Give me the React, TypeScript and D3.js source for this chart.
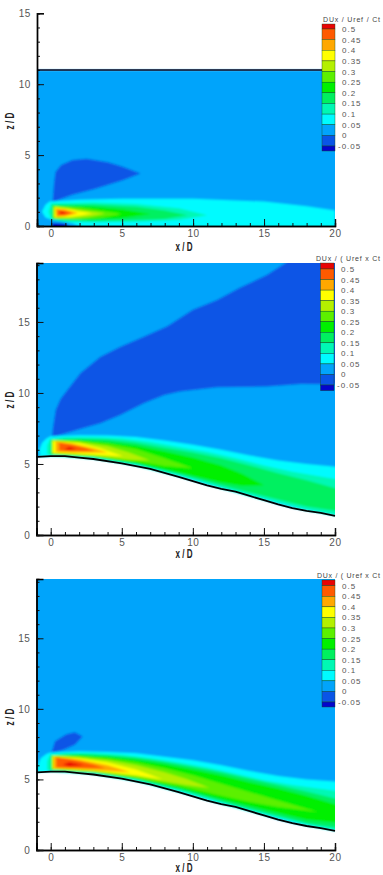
import React, { useEffect, useRef } from "react";
import * as d3 from "d3";

type Pt = [number, number];
type Contour = [number, Pt[]];

// contour levels and the colour of each band, lowest first
const levels = [-0.05, 0, 0.05, 0.1, 0.15, 0.2, 0.25, 0.3, 0.35, 0.4, 0.45, 0.5];
const bandColors = [
  "#0404cc", "#0a55e6", "#02a4fb", "#00fbff", "#00f8b4", "#00f060", "#00f000",
  "#5cf000", "#b4f000", "#ffff00", "#ffa800", "#ff5a00", "#e80404",
];
const levelLabels = ["-0.05", "0", "0.05", "0.1", "0.15", "0.2", "0.25", "0.3", "0.35", "0.4", "0.45", "0.5"];
const xTicks = [0, 5, 10, 15, 20];
const xMinor = d3.range(-1, 21);

const terrain: Pt[] = [
  [-1, 5.5], [0, 5.55], [1, 5.55], [2, 5.45], [3, 5.35], [5, 5.05], [7, 4.65], [9, 4.1], [10, 3.8],
  [11, 3.5], [12, 3.25], [13, 3.05], [14, 2.75], [15, 2.45], [16, 2.15], [17, 1.9], [18, 1.7], [19, 1.55], [20, 1.35],
];

// flat channel, z/D 0 to 11
const flatContours: Contour[] = [
  [-0.05, [[0, 0.45], [0.1, 1.7], [0.2, 3], [0.3, 3.8], [0.7, 4.3], [1.5, 4.65], [2.5, 4.75], [4, 4.5], [5, 4.2], [6.3, 3.7], [5, 3.2], [3, 2.6], [1.5, 2.2], [0.1, 1.7]]],
  [0.05, [[-0.65, 1], [-0.4, 1.5], [-0.1, 1.72], [2, 1.85], [5, 1.92], [10, 1.92], [15, 1.72], [18, 1.4], [20, 1.1], [20, -0.5], [3, -0.5], [1.5, 0.2], [0, 0.45], [-0.4, 0.6]]],
  [0.1, [[-0.2, 1], [0, 1.58], [3, 1.65], [6, 1.55], [9, 1.25], [11, 0.75], [9, 0.42], [6, 0.3], [3, 0.26], [1, 0.3], [0, 0.45]]],
  [0.15, [[0.05, 0.55], [0.05, 1.5], [3, 1.52], [6, 1.36], [8, 1.1], [9.6, 0.75], [8, 0.5], [6, 0.42], [3, 0.36], [0.5, 0.42]]],
  [0.2, [[0.1, 0.55], [0.1, 1.44], [3, 1.36], [5, 1.18], [7, 0.85], [5, 0.55], [3, 0.46], [0.3, 0.48]]],
  [0.25, [[0.15, 0.55], [0.15, 1.4], [2, 1.28], [3.5, 1.08], [5, 0.85], [3.5, 0.6], [2, 0.5], [0.3, 0.52]]],
  [0.3, [[0.2, 0.58], [0.2, 1.36], [1.5, 1.22], [2.6, 1.04], [3.8, 0.88], [2.6, 0.66], [1.5, 0.56]]],
  [0.35, [[0.25, 0.62], [0.25, 1.32], [1.2, 1.2], [2, 1.02], [2.9, 0.9], [2, 0.72], [1.2, 0.62]]],
  [0.4, [[0.35, 0.66], [0.3, 1.24], [1, 1.16], [1.9, 0.92], [1, 0.68]]],
  [0.45, [[0.45, 0.74], [0.45, 1.14], [1, 1.08], [1.5, 0.92], [1, 0.76]]],
  [0.5, [[0.6, 0.86], [0.7, 1.02], [1.05, 0.96], [0.8, 0.84]]],
];
const flatDeepPatch: Pt[] = [[0.05, -0.5], [0.05, 0.22], [1, 0.16], [1.8, -0.5]];

// hill case with a large wake above the crest
const hillAContours: Contour[] = [
  [-0.05, [[0.1, 6.9], [0.15, 7.5], [0.35, 8.8], [0.7, 9.6], [1.17, 10.2], [2.1, 11.4], [3.5, 12.55], [4.9, 13.25], [6.3, 13.85], [8.2, 14.7], [10, 15.85], [11.7, 16.55], [13.3, 17.4], [15.2, 18.3], [16.6, 19.2], [16.8, 20], [21, 20], [21, 10.6], [17.6, 10.63], [15.2, 10.45], [11.7, 10.4], [9.1, 10.1], [8, 9.85], [6.55, 9.27], [4.9, 8.45], [3.5, 7.87], [2, 7.45], [1, 7.15]]],
  [0.05, [[-0.75, 5.5], [-0.8, 6], [-0.6, 6.5], [-0.3, 6.8], [0, 6.95], [2, 7.02], [4, 7], [6, 6.9], [8, 6.65], [10, 6.35], [12, 6], [14, 5.6], [16, 5.25], [18, 5], [20, 4.8], [21, 4.7], [21, 1.2], [20, 1.35], [18, 1.7], [15, 2.45], [12, 3.25], [9, 4.1], [6, 4.85], [3, 5.35], [0, 5.55]]],
  [0.1, [[-0.25, 5.7], [-0.25, 6.3], [-0.05, 6.75], [1, 6.88], [3, 6.88], [5, 6.8], [7, 6.55], [9, 6.2], [11, 5.85], [13, 5.4], [15, 4.9], [17, 4.45], [20, 3.95], [21, 3.8], [21, 1.3], [20, 1.42], [18, 1.8], [15, 2.55], [12, 3.35], [9, 4.2], [6, 4.95], [3, 5.42], [0, 5.6]]],
  [0.15, [[0, 5.65], [0, 6.7], [2, 6.78], [4, 6.72], [6, 6.5], [8, 6.15], [10, 5.8], [12, 5.4], [14, 4.9], [16, 4.35], [18, 3.85], [20, 3.3], [21, 3.1], [21, 1.55], [20, 1.7], [18, 2], [15, 2.75], [12, 3.5], [9, 4.3], [6, 5], [3, 5.48]]],
  [0.2, [[0.05, 5.7], [0.05, 6.7], [2, 6.7], [4, 6.55], [6, 6.3], [8, 5.9], [10, 5.45], [12, 4.9], [13.5, 4.3], [15, 3.5], [13.5, 3.45], [12, 3.7], [9, 4.4], [6, 5.05], [3, 5.5]]],
  [0.25, [[0.1, 5.72], [0.1, 6.68], [2, 6.6], [4, 6.4], [6, 6.05], [8, 5.4], [10, 4.7], [8, 4.85], [6, 5.2], [3, 5.55]]],
  [0.3, [[0.12, 5.75], [0.12, 6.66], [2, 6.55], [4, 6.25], [5.5, 5.8], [7, 5.25], [5.5, 5.3], [3, 5.6]]],
  [0.35, [[0.15, 5.77], [0.15, 6.62], [2, 6.48], [3.5, 6.1], [5.1, 5.55], [3.5, 5.62], [1.5, 5.72]]],
  [0.4, [[0.35, 5.85], [0.35, 6.6], [1.5, 6.45], [3, 6.1], [4, 5.8], [3, 5.8], [1.5, 5.8]]],
  [0.45, [[0.6, 5.95], [0.6, 6.5], [1.5, 6.35], [2.5, 6.1], [3.1, 5.9], [1.5, 5.9]]],
  [0.5, [[0.95, 6.02], [1.3, 6.2], [1.8, 6.08], [1.3, 5.98]]],
];

// hill case with a small lobe over the crest
const hillBContours: Contour[] = [
  [-0.05, [[0.05, 6.88], [0.3, 7.7], [1.1, 8.2], [1.7, 8.35], [2.25, 8.05], [1.7, 7.45], [0.9, 7.1]]],
  [0.05, [[-0.95, 5.5], [-0.9, 6], [-0.7, 6.5], [-0.3, 6.8], [0, 6.9], [2, 7], [4, 6.95], [6, 6.85], [8, 6.6], [10, 6.35], [12, 6], [14, 5.6], [16, 5.25], [18, 5], [20, 4.85], [21, 4.75], [21, 1.2], [20, 1.35], [18, 1.7], [15, 2.45], [12, 3.25], [9, 4.1], [6, 4.85], [3, 5.35], [0, 5.55]]],
  [0.1, [[-0.25, 5.7], [-0.25, 6.3], [-0.05, 6.75], [1, 6.88], [3, 6.88], [5, 6.75], [7, 6.5], [9, 6.2], [11, 5.85], [13, 5.4], [15, 4.95], [17, 4.6], [20, 4.2], [21, 4.05], [21, 1.3], [20, 1.42], [18, 1.8], [15, 2.55], [12, 3.35], [9, 4.2], [6, 4.95], [3, 5.42], [0, 5.6]]],
  [0.15, [[0, 5.65], [0, 6.7], [2, 6.8], [4, 6.72], [6, 6.55], [8, 6.25], [10, 5.9], [12, 5.5], [14, 5.05], [16, 4.6], [18, 4.15], [20, 3.65], [21, 3.45], [21, 1.5], [20, 1.6], [18, 1.9], [15, 2.65], [12, 3.45], [9, 4.3], [6, 5], [3, 5.48]]],
  [0.2, [[0.05, 5.7], [0.05, 6.7], [2, 6.72], [4, 6.62], [6, 6.4], [8, 6.1], [10, 5.7], [12, 5.3], [14, 4.8], [16, 4.35], [18, 3.85], [20, 3.25], [21, 3.05], [21, 1.85], [20, 1.95], [18, 2.15], [15, 2.85], [12, 3.6], [9, 4.4], [6, 5.05], [3, 5.5]]],
  [0.25, [[0.1, 5.72], [0.1, 6.68], [2, 6.62], [4, 6.48], [6, 6.2], [8, 5.8], [10, 5.3], [12, 4.7], [14, 4.1], [16, 3.5], [18.8, 2.7], [16, 3.05], [14, 3.4], [12, 3.85], [9, 4.55], [6, 5.1], [3, 5.52]]],
  [0.3, [[0.12, 5.75], [0.12, 6.66], [2, 6.58], [4, 6.35], [6, 6], [8, 5.5], [9.5, 5.05], [11.2, 4.4], [9.5, 4.6], [8, 4.85], [6, 5.2], [3, 5.58]]],
  [0.35, [[0.15, 5.77], [0.15, 6.62], [2, 6.5], [4, 6.2], [6, 5.7], [7.9, 5], [6, 5.3], [3, 5.62]]],
  [0.4, [[0.2, 5.8], [0.2, 6.6], [2, 6.42], [4, 6], [5.6, 5.5], [4, 5.6], [2, 5.72]]],
  [0.45, [[0.4, 5.85], [0.4, 6.58], [1.5, 6.42], [3, 6.05], [3.86, 5.8], [2, 5.8]]],
  [0.5, [[0.85, 6.06], [1.3, 6.22], [2.3, 6.02], [1.3, 5.94]]],
];

const flatTitle = "DUx / Uref / Ct";
const hillTitle = "DUx / ( Uref x Ct";

const WIDTH = 383;
const HEIGHT = 875;
const FONT = "'Liberation Sans', Arial, sans-serif";

const App = () => {
  const svgRef = useRef<SVGSVGElement>(null);

  useEffect(() => {
    const root = d3.select(svgRef.current);
    root.selectAll("*").remove();

    const defs = root.append("defs");
    defs.append("filter").attr("id", "soft").attr("x", "-5%").attr("y", "-5%").attr("width", "110%").attr("height", "110%")
      .append("feGaussianBlur").attr("stdDeviation", 1);

    const bandColor = d3.scaleThreshold<number, string>().domain(levels).range(bandColors);

    const drawPanel = (p: any, i: number) => {
      const x = d3.scaleLinear().domain([-1, 20]).range([p.left, p.right]);
      const y = d3.scaleLinear().domain([0, p.zTop]).range([p.bottom, p.top]);
      const line = d3.line<Pt>().x((d) => x(d[0])).y((d) => y(d[1]));
      const g = root.append("g");

      defs.append("clipPath").attr("id", `plot${i}`)
        .append("rect").attr("x", p.left).attr("y", p.top)
        .attr("width", p.right - p.left).attr("height", p.bottom - p.top);

      const plot = g.append("g").attr("clip-path", `url(#plot${i})`).append("g").attr("filter", "url(#soft)");

      // background band, painted a little larger so the blur keeps its edge
      plot.append("path")
        .attr("d", line(p.floor
          ? [[-2, p.floor[0][1]], ...p.floor, [21, p.floor[p.floor.length - 1][1] - 0.15], [21, p.ceiling], [-2, p.ceiling]]
          : [[-2, -1], [21, -1], [21, p.ceiling], [-2, p.ceiling]]))
        .attr("fill", bandColor(0.02));

      p.contours.forEach(([lvl, pts]: Contour) => {
        plot.append("path").attr("d", line(pts)! + "Z").attr("fill", bandColor(lvl + 0.001));
      });
      if (p.patch) plot.append("path").attr("d", line(p.patch)! + "Z").attr("fill", bandColor(-0.1));

      // boundary line
      if (p.floor) {
        g.append("path").attr("d", line(p.floor)).attr("fill", "none").attr("stroke", "#000").attr("stroke-width", 1.8);
      } else {
        g.append("line").attr("x1", x(-1)).attr("x2", x(20)).attr("y1", y(p.ceiling)).attr("y2", y(p.ceiling))
          .attr("stroke", "#04041e").attr("stroke-width", 1.6);
      }

      // axes with inward ticks
      const xAxis = g.append("g").attr("transform", `translate(0,${p.bottom})`);
      xAxis.call(d3.axisBottom(x).tickValues(xMinor).tickSize(-3).tickFormat(() => "") as any);
      const xMajor = g.append("g").attr("transform", `translate(0,${p.bottom})`);
      xMajor.call(d3.axisBottom(x).tickValues(xTicks).tickSize(-7).tickPadding(4).tickFormat(d3.format("d") as any) as any);
      const yAxis = g.append("g").attr("transform", `translate(${p.left},0)`);
      yAxis.call(d3.axisLeft(y).tickValues(d3.range(0, p.zTop, 1)).tickSize(-3).tickFormat(() => "") as any);
      const yMajor = g.append("g").attr("transform", `translate(${p.left},0)`);
      yMajor.call(d3.axisLeft(y).tickValues(p.zTicks).tickSize(-7).tickPadding(6).tickFormat(d3.format("d") as any) as any);

      g.selectAll(".domain").attr("stroke", "#000").attr("stroke-width", 1.4);
      g.selectAll(".tick line").attr("stroke", "#111").attr("stroke-width", 1);
      g.selectAll(".tick text").attr("font-family", FONT).attr("font-size", 10).attr("fill", "#555").attr("letter-spacing", 0.6);

      g.append("text").attr("x", p.xTitleX).attr("y", p.xTitleY).attr("text-anchor", "middle")
        .attr("font-family", FONT).attr("font-weight", "bold").attr("font-size", 12).attr("fill", "#222")
        .attr("textLength", 17).attr("lengthAdjust", "spacingAndGlyphs").text("x / D");
      g.append("text").attr("transform", `translate(${p.zTitleX},${p.zTitleY}) rotate(-90)`).attr("text-anchor", "middle")
        .attr("font-family", FONT).attr("font-weight", "bold").attr("font-size", 12).attr("fill", "#222")
        .attr("textLength", 17).attr("lengthAdjust", "spacingAndGlyphs").text("z / D");

      // legend bar, blocks between contour levels
      const lg = d3.scaleLinear().domain([-0.05, 0.5]).range([p.legendLow, p.legendHigh]);
      const edges = [p.legendTop, ...levels.slice().reverse().map((v) => lg(v)), p.legendEnd];
      const bandsDown = bandColors.slice().reverse();
      const legend = g.append("g");
      legend.selectAll("rect").data(bandsDown).join("rect")
        .attr("x", p.legendX).attr("width", p.legendW)
        .attr("y", (_, k) => edges[k]).attr("height", (_, k) => edges[k + 1] - edges[k])
        .attr("fill", (d) => d).attr("stroke", "#1c4a1c").attr("stroke-width", 0.4);
      legend.selectAll("text").data(levels).join("text")
        .attr("x", (d) => (d < 0 ? p.legendX + p.legendW + 3 : p.legendX + p.legendW + 7))
        .attr("y", (d) => lg(d) + 3)
        .attr("font-family", FONT).attr("font-size", 8).attr("letter-spacing", 1).attr("fill", "#555")
        .text((_, k) => levelLabels[k]);
      g.append("text").attr("x", p.legendTitleX).attr("y", p.legendTitleY)
        .attr("font-family", FONT).attr("font-size", 7).attr("fill", "#444")
        .attr("textLength", 380 - p.legendTitleX).attr("lengthAdjust", "spacing")
        .text(p.title);
    };

    const panels = [
      { left: 37, right: 335, top: 13.3, bottom: 226, zTop: 15, zTicks: [0, 5, 10, 15], ceiling: 11, contours: flatContours, patch: flatDeepPatch,
        xTitleX: 184, xTitleY: 251, zTitleX: 14, zTitleY: 121, legendX: 322, legendW: 13, legendTop: 24, legendEnd: 151, legendHigh: 29, legendLow: 146, legendTitleX: 323, legendTitleY: 22, title: flatTitle },
      { left: 36.5, right: 335, top: 263, bottom: 535, zTop: 19.15, zTicks: [0, 5, 10, 15], ceiling: 19.6, floor: terrain, contours: hillAContours,
        xTitleX: 184, xTitleY: 558, zTitleX: 14, zTitleY: 400, legendX: 320.5, legendW: 13.5, legendTop: 263, legendEnd: 390.7, legendHigh: 269, legendLow: 385, legendTitleX: 316, legendTitleY: 261, title: hillTitle },
      { left: 36.5, right: 335, top: 579, bottom: 850, zTop: 19.2, zTicks: [0, 5, 10, 15], ceiling: 19.6, floor: terrain, contours: hillBContours,
        xTitleX: 184, xTitleY: 872, zTitleX: 14, zTitleY: 717, legendX: 322, legendW: 13, legendTop: 580, legendEnd: 707, legendHigh: 585.7, legendLow: 702, legendTitleX: 317, legendTitleY: 578, title: hillTitle },
    ];
    panels.forEach(drawPanel);
  }, []);

  return (
    <svg ref={svgRef} width={WIDTH} height={HEIGHT} style={{ position: "absolute", left: 0, top: 0, background: "#fff" }} />
  );
};

export default App;
